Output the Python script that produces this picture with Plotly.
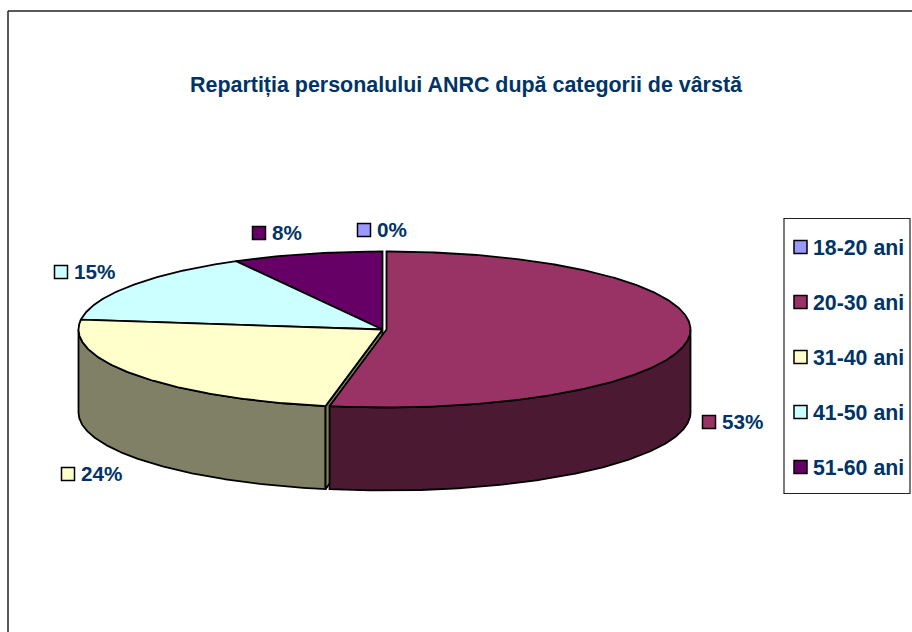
import numpy as np
import plotly.graph_objects as go

title = "Repartiția personalului ANRC după categorii de vârstă"
categories = ["18-20 ani", "20-30 ani", "31-40 ani", "41-50 ani", "51-60 ani"]
values = [0, 53, 24, 15, 8]
top_colors = ["#9999FF", "#993366", "#FFFFCC", "#CCFFFF", "#660066"]
side_colors = ["#4C4C80", "#4C1933", "#808066", "#668080", "#330033"]

# layout (pixel space of the 912x632 page)
W, H = 912, 632
RX, RY, DEPTH = 304, 78, 83
CY = 329.5
CX_BASE = 382.5
EXPLODE = {1: 4}
INK = "#000000"
TEXT = "#003366"
FONT = "Liberation Sans, Arial, sans-serif"
label_keys = {0: (364, 230), 1: (709, 422), 2: (68, 474), 3: (61, 272), 4: (259, 233)}
legend_box = (784, 218.5, 910, 493.5)
legend_key_x = 800.5
legend_text_x = 810.5
legend_ys = [247, 302, 357, 412, 467]

total = sum(values)
fractions = np.cumsum([0] + values) / total  # clockwise from 12 o'clock


def rim(cx, a0, a1, dy=0.0):
    a = np.linspace(a0, a1, max(2, int(abs(a1 - a0) * 120)))
    return cx + RX * np.sin(a), CY - RY * np.cos(a) + dy


fig = go.Figure()


def poly(x, y, color):
    fig.add_trace(go.Scatter(
        x=list(x), y=list(y), mode="lines", fill="toself", fillcolor=color,
        line=dict(color=INK, width=1.8), hoverinfo="skip", showlegend=False))


# wedge bounds in drawing order: back slices first, front slices last
order = [4, 3, 2, 1]
for i in order:
    if values[i] == 0:
        continue
    cx = CX_BASE + EXPLODE.get(i, 0)
    a0, a1 = 2 * np.pi * fractions[i], 2 * np.pi * fractions[i + 1]

    # outer wall: only the part that faces the viewer (90..270 degrees)
    s0, s1 = max(a0, np.pi / 2), min(a1, 3 * np.pi / 2)
    if s1 > s0:
        xt, yt = rim(cx, s0, s1)
        xb, yb = rim(cx, s1, s0, DEPTH)
        poly(np.r_[xt, xb, xt[0]], np.r_[yt, yb, yt[0]], side_colors[i])

    # cut face at the clockwise start of the wedge, visible on the left part of the front
    if np.pi / 2 < a0 < np.pi * 1.5 and i != 1:
        xe, ye = cx + RX * np.sin(a0), CY - RY * np.cos(a0)
        poly([cx, xe, xe, cx, cx], [CY, ye, ye + DEPTH, CY + DEPTH, CY], side_colors[i])

    # top face
    xt, yt = rim(cx, a0, a1)
    poly(np.r_[cx, xt, cx], np.r_[CY, yt, CY], top_colors[i])

# percentage labels with their keys
key_x = [label_keys[i][0] for i in range(len(values))]
key_y = [label_keys[i][1] for i in range(len(values))]
fig.add_trace(go.Scatter(
    x=key_x + [legend_key_x] * len(categories), y=key_y + legend_ys, mode="markers",
    marker=dict(symbol="square", size=13, color=top_colors + top_colors,
                line=dict(color=INK, width=1.5)),
    hoverinfo="skip", showlegend=False))

annotations = [dict(
    x=466.5, y=85, xref="x", yref="y", text=f"<b>{title}</b>", showarrow=False,
    xanchor="center", yanchor="middle", font=dict(family=FONT, size=21.45, color=TEXT))]
for i, v in enumerate(values):
    annotations.append(dict(
        x=label_keys[i][0] + 10.5, y=label_keys[i][1] - 1, xref="x", yref="y", text=f"<b>{v}%</b>",
        showarrow=False, xanchor="left", yanchor="middle",
        font=dict(family=FONT, size=20.7, color=TEXT)))
for name, y in zip(categories, legend_ys):
    annotations.append(dict(
        x=legend_text_x, y=y + 1, xref="x", yref="y", text=f"<b>{name}</b>", showarrow=False,
        xanchor="left", yanchor="middle", font=dict(family=FONT, size=21.3, color=TEXT)))

shapes = [
    dict(type="line", xref="x", yref="y", x0=8, y0=11, x1=W + 5, y1=11, line=dict(color="#222222", width=1.5)),
    dict(type="line", xref="x", yref="y", x0=8, y0=11, x1=8, y1=H + 5, line=dict(color="#222222", width=1.5)),
    dict(type="rect", xref="x", yref="y", x0=legend_box[0], y0=legend_box[1], x1=legend_box[2], y1=legend_box[3],
         line=dict(color="#222222", width=1.2), fillcolor="white", layer="below"),
]

fig.update_layout(
    width=W, height=H, margin=dict(l=0, r=0, t=0, b=0),
    paper_bgcolor="white", plot_bgcolor="white", showlegend=False,
    xaxis=dict(range=[0, W], visible=False, fixedrange=True),
    yaxis=dict(range=[H, 0], visible=False, fixedrange=True),
    annotations=annotations, shapes=shapes)

fig.write_html("out.html", config={"displayModeBar": False},
               post_script="document.body.style.margin='0';document.documentElement.style.overflow='hidden';")
